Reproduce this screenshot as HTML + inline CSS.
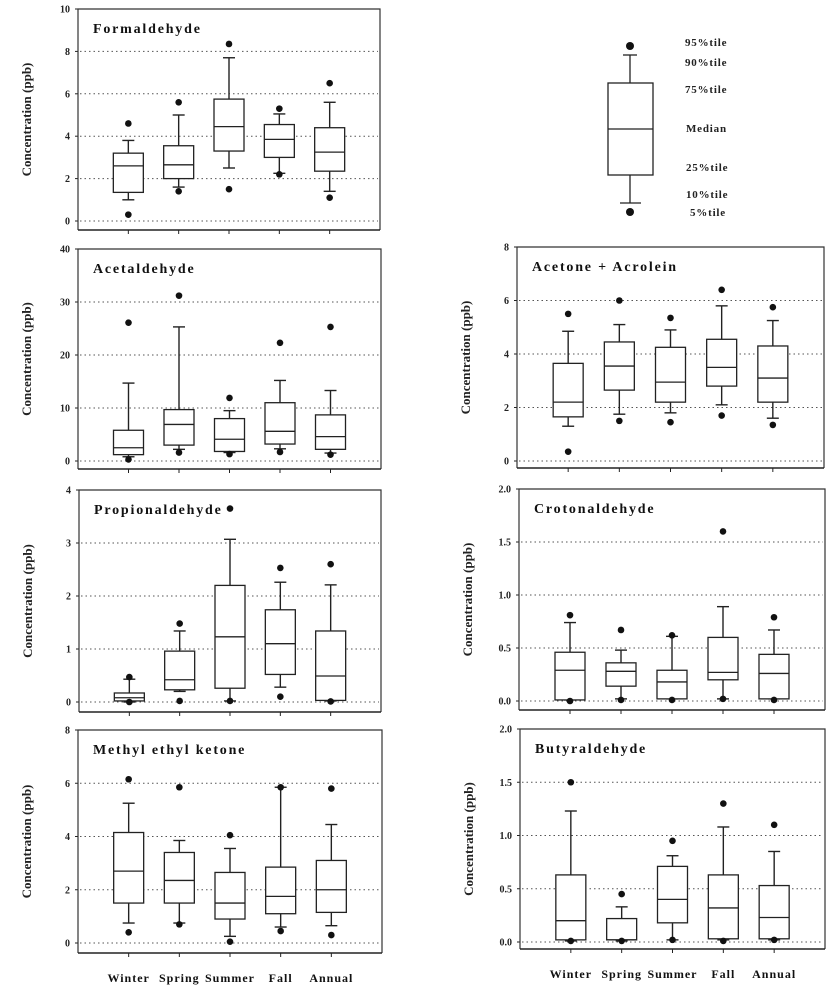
<!DOCTYPE html>
<html><head><meta charset="utf-8"><style>
html,body{margin:0;padding:0;background:#fff;}
svg{display:block;font-family:"Liberation Serif",serif;}
</style></head><body>
<svg id="fig" width="831" height="1000" viewBox="0 0 831 1000"></svg>
<script>
const categories = ["Winter","Spring","Summer","Fall","Annual"];
// each box: [p5, p10, p25, median, p75, p90, p95]
const formaldehyde = [[0.3,1.0,1.35,2.6,3.2,3.8,4.6],[1.4,1.6,2.0,2.65,3.55,5.0,5.6],[1.5,2.5,3.3,4.45,5.75,7.7,8.35],[2.2,2.25,3.0,3.85,4.55,5.05,5.3],[1.1,1.4,2.35,3.25,4.4,5.6,6.5]];
const acetaldehyde = [[0.3,0.8,1.2,2.5,5.8,14.7,26.1],[1.6,2.2,3.0,6.9,9.7,25.3,31.2],[1.3,1.6,1.8,4.1,8.0,9.5,11.9],[1.7,2.3,3.2,5.6,11.0,15.2,22.3],[1.2,1.5,2.2,4.6,8.7,13.3,25.3]];
const acetoneAcrolein = [[0.35,1.3,1.65,2.2,3.65,4.85,5.5],[1.5,1.75,2.65,3.55,4.45,5.1,6.0],[1.45,1.8,2.2,2.95,4.25,4.9,5.35],[1.7,2.1,2.8,3.5,4.55,5.8,6.4],[1.35,1.6,2.2,3.1,4.3,5.25,5.75]];
const propionaldehyde = [[0,0,0.02,0.08,0.17,0.43,0.47],[0.02,0.2,0.23,0.42,0.96,1.34,1.48],[0.02,0.02,0.26,1.23,2.2,3.07,3.65],[0.1,0.28,0.52,1.1,1.74,2.26,2.53],[0.01,0.02,0.03,0.49,1.34,2.21,2.6]];
const crotonaldehyde = [[0,0.01,0.01,0.29,0.46,0.74,0.81],[0.01,0.02,0.14,0.28,0.36,0.48,0.67],[0.01,0.02,0.02,0.18,0.29,0.61,0.62],[0.02,0.02,0.2,0.27,0.6,0.89,1.6],[0.01,0.02,0.02,0.26,0.44,0.67,0.79]];
const methylEthylKetone = [[0.4,0.75,1.5,2.7,4.15,5.25,6.15],[0.7,0.75,1.5,2.35,3.4,3.85,5.85],[0.05,0.25,0.9,1.5,2.65,3.55,4.05],[0.45,0.6,1.1,1.75,2.85,5.85,5.85],[0.3,0.65,1.15,2.0,3.1,4.45,5.8]];
const butyraldehyde = [[0.01,0.01,0.02,0.2,0.63,1.23,1.5],[0.01,0.01,0.02,0.02,0.22,0.33,0.45],[0.02,0.02,0.18,0.4,0.71,0.81,0.95],[0.01,0.02,0.03,0.32,0.63,1.08,1.3],[0.02,0.02,0.03,0.23,0.53,0.85,1.1]];
const ticksF = [0,2,4,6,8,10];
const ticksA = [0,10,20,30,40];
const ticks8 = [0,2,4,6,8];
const ticks4 = [0,1,2,3,4];
const ticks2 = [0,0.5,1.0,1.5,2.0];

const NS = "http://www.w3.org/2000/svg";
const svg = document.getElementById("fig");
function mk(tag, attrs, parent, txt){
  const e = document.createElementNS(NS, tag);
  for (const k in attrs) e.setAttribute(k, attrs[k]);
  if (txt !== undefined) e.textContent = txt;
  (parent||svg).appendChild(e);
  return e;
}
const panels = [
  {key:"formaldehyde", title:"Formaldehyde", data:formaldehyde, ticks:ticksF, dec:0, L:78,R:380,T:9,Z:221,B:230, xl:false},
  {key:"acetaldehyde", title:"Acetaldehyde", data:acetaldehyde, ticks:ticksA, dec:0, L:78,R:381,T:249,Z:461,B:469, xl:false},
  {key:"acetone-acrolein", title:"Acetone + Acrolein", data:acetoneAcrolein, ticks:ticks8, dec:0, L:517,R:824,T:247,Z:461,B:468, xl:false},
  {key:"propionaldehyde", title:"Propionaldehyde", data:propionaldehyde, ticks:ticks4, dec:0, L:79,R:381,T:490,Z:702,B:712, xl:false},
  {key:"crotonaldehyde", title:"Crotonaldehyde", data:crotonaldehyde, ticks:ticks2, dec:1, L:519,R:825,T:489,Z:701,B:710, xl:false},
  {key:"methyl-ethyl-ketone", title:"Methyl ethyl ketone", data:methylEthylKetone, ticks:ticks8, dec:0, L:78,R:382,T:730,Z:943,B:953, xl:true},
  {key:"butyraldehyde", title:"Butyraldehyde", data:butyraldehyde, ticks:ticks2, dec:1, L:520,R:825,T:729,Z:942,B:949, xl:true}
];
panels.forEach(p=>{
  const g = mk("g",{});
  
  
  const max = p.ticks[p.ticks.length-1];
  const y = v => p.Z - (v/max)*(p.Z-p.T);
  const w = p.R - p.L;
  const x = i => p.L + w*(i+1)/6;
  p.ticks.forEach(t=>{
    if (t!==max){
      const gl = mk("line",{x1:p.L+2,x2:p.R-2,y1:y(t),y2:y(t),stroke:"#555","stroke-width":1,"stroke-dasharray":"1.5,3"},g);
      
      
    }
    const tk = mk("line",{x1:p.L-3,x2:p.L,y1:y(t),y2:y(t),stroke:"#222","stroke-width":1},g);
    
    
    const tl = mk("text",{x:p.L-8,y:y(t)+3.5,"text-anchor":"end","font-size":10,"font-weight":"bold",fill:"#222"},g,t.toFixed(p.dec));
    
    
  });
  const fr = mk("path",{d:`M${p.L},${p.B}V${p.T}H${p.R}V${p.B}`,fill:"none",stroke:"#333","stroke-width":1.2},g);
  
  
  const xa = mk("line",{x1:p.L,x2:p.R,y1:p.B,y2:p.B,stroke:"#222","stroke-width":1.5},g);
  
  
  const tt = mk("text",{x:p.L+15,y:p.T+24,"font-size":14,"font-weight":"bold","letter-spacing":1.8,fill:"#111"},g,p.title);
  
  
  const cy = (p.T+p.B)/2, cx = p.L-47;
  const yt = mk("text",{x:cx,y:cy,transform:`rotate(-90 ${cx} ${cy})`,"text-anchor":"middle","font-size":13,"font-weight":"bold",fill:"#222"},g,"Concentration (ppb)");
  
  
  p.data.forEach((d,i)=>{
    const cxp = x(i);
    const bx = mk("g",{},g);
    
    
    mk("line",{x1:cxp,x2:cxp,y1:p.B,y2:p.B+4,stroke:"#222","stroke-width":1},bx);
    const hw = 15;
    mk("line",{x1:cxp,x2:cxp,y1:y(d[1]),y2:y(d[2]),stroke:"#222","stroke-width":1.4},bx);
    mk("line",{x1:cxp,x2:cxp,y1:y(d[4]),y2:y(d[5]),stroke:"#222","stroke-width":1.4},bx);
    mk("line",{x1:cxp-6,x2:cxp+6,y1:y(d[1]),y2:y(d[1]),stroke:"#222","stroke-width":1.4},bx);
    mk("line",{x1:cxp-6,x2:cxp+6,y1:y(d[5]),y2:y(d[5]),stroke:"#222","stroke-width":1.4},bx);
    mk("rect",{x:cxp-hw,y:y(d[4]),width:2*hw,height:Math.max(0.5,y(d[2])-y(d[4])),fill:"#fff",stroke:"#222","stroke-width":1.3},bx);
    mk("line",{x1:cxp-hw,x2:cxp+hw,y1:y(d[3]),y2:y(d[3]),stroke:"#222","stroke-width":1.3},bx);
    mk("circle",{cx:cxp,cy:y(d[0]),r:3.3,fill:"#111"},bx);
    mk("circle",{cx:cxp,cy:y(d[6]),r:3.3,fill:"#111"},bx);
    if (p.xl){
      const xt = mk("text",{x:cxp,y:p.B+29,"text-anchor":"middle","font-size":12,"font-weight":"bold","letter-spacing":1,fill:"#111"},g,categories[i]);
      
      
    }
  });
});
</script>
<svg width="831" height="1000" style="position:absolute;left:0;top:0">
  <g stroke="#222" stroke-width="1.3" fill="none">
    <line x1="630" y1="55" x2="630" y2="83"/>
    <line x1="623" y1="55" x2="637" y2="55"/>
    <rect x="608" y="83" width="45" height="92" fill="#fff"/>
    <line x1="608" y1="129" x2="653" y2="129"/>
    <line x1="630" y1="175" x2="630" y2="203"/>
    <line x1="620" y1="203" x2="641" y2="203"/>
  </g>
  <circle cx="630" cy="46" r="4" fill="#111"/>
  <circle cx="630" cy="212" r="4" fill="#111"/>
  <g font-family="Liberation Serif, serif" font-size="11" font-weight="bold" fill="#222" letter-spacing="0.8">
    <text x="685" y="46">95%tile</text>
    <text x="685" y="66">90%tile</text>
    <text x="685" y="93">75%tile</text>
    <text x="686" y="132">Median</text>
    <text x="686" y="171">25%tile</text>
    <text x="686" y="198">10%tile</text>
    <text x="690" y="216">5%tile</text>
  </g>
</svg>
</body></html>
